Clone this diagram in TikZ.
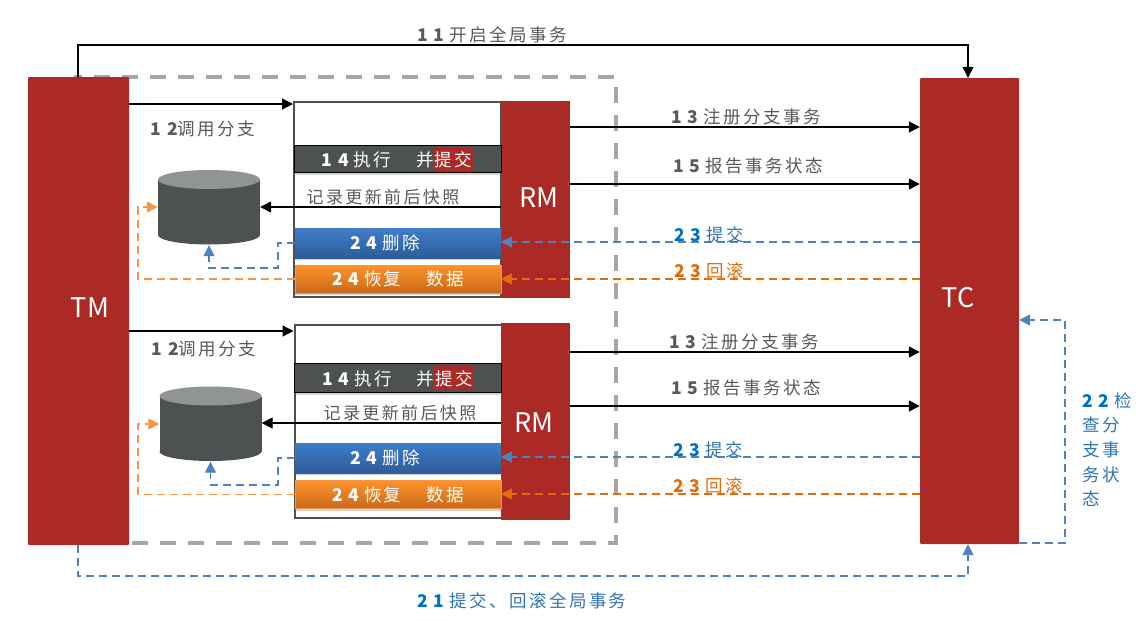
\documentclass[tikz,border=0pt]{standalone}
\usepackage{fontspec}
\usetikzlibrary{arrows.meta,shapes.geometric,shadows}
\newfontfamily\cjk[LetterSpace=14]{Noto Sans CJK SC}
\newfontfamily\plainfont{Noto Sans CJK SC}
\newfontfamily\dgfont[LetterSpace=32]{Noto Sans CJK SC}
\newcommand{\dg}[1]{{\bfseries\dgfont #1}}
\newcommand{\dgs}[1]{{\bfseries\dgfont #1}\hspace{5pt}}
\definecolor{brick}{HTML}{AB2A26}
\definecolor{slate}{HTML}{4D5151}
\definecolor{slatetop}{HTML}{909494}
\definecolor{txtgray}{HTML}{595959}
\definecolor{dashgray}{HTML}{A6A6A6}
\definecolor{blueln}{HTML}{4F81BD}
\definecolor{bluetxt}{HTML}{2E75B6}
\definecolor{bluedg}{HTML}{0070C0}
\definecolor{orgln}{HTML}{F79646}
\definecolor{orgdk}{HTML}{E36C0A}
\definecolor{deltop}{HTML}{3E7DCA}
\definecolor{delbot}{HTML}{2E5C99}
\definecolor{rbtop}{HTML}{FF9229}
\definecolor{rbbot}{HTML}{C86A1C}
\tikzset{
 x=1pt,y=-1pt,
 txt/.style={font=\cjk\fontsize{17.5}{20}\selectfont,inner sep=0pt,text=txtgray,yshift=-1pt},
 snaptxt/.style={txt,font=\cjk\fontsize{17}{20}\selectfont},
 bluet/.style={txt,text=bluetxt},
 orgt/.style={txt,text=orgdk},
 block/.style={rectangle,fill=brick,inner sep=0pt,text=white,font=\plainfont\fontsize{27}{30}\selectfont},
 rmbox/.style={block,minimum width=69pt,minimum height=197pt},
 whitebox/.style={rectangle,draw=slate,line width=2pt,fill=white,inner sep=0pt,minimum width=207pt},
 softshadow/.style={drop shadow={shadow xshift=0pt,shadow yshift=-2pt,opacity=.35}},
 bartxt/.style={font=\cjk\fontsize{17.5}{20}\selectfont,text=white,inner sep=0pt},
 execbar/.style={rectangle,draw=black,line width=1pt,fill=slate,bartxt,minimum width=207pt,minimum height=27pt,softshadow},
 delbar/.style={rectangle,top color=deltop,bottom color=delbot,bartxt,minimum width=206pt,minimum height=30pt,softshadow},
 rbbar/.style={rectangle,draw=orgln,line width=.6pt,top color=rbtop,bottom color=rbbot,bartxt,minimum width=206pt,minimum height=28pt,softshadow},
 dbbody/.style={rectangle,fill=slate,inner sep=0pt,minimum width=102pt,minimum height=55pt},
 dbcap/.style={ellipse,inner sep=0pt,minimum width=102pt,minimum height=19pt},
 dbframe/.style={rectangle,inner sep=0pt,minimum width=102pt,minimum height=75pt},
 arr/.style={-{Triangle[length=11pt,width=11pt]},line width=1.3pt,black},
 bdash/.style={-{Triangle[length=11pt,width=11pt]},line width=1.3pt,blueln,dash pattern=on 8pt off 5pt},
 odash/.style={-{Triangle[length=11pt,width=11pt]},line width=1.3pt,orgln,dash pattern=on 8pt off 5pt},
 odk/.style={-{Triangle[length=11pt,width=11pt]},line width=1.3pt,orgdk,dash pattern=on 8pt off 5pt}
}
\setlength{\fboxsep}{1pt}
\newcommand{\rd}[1]{\colorbox{brick}{\rule[-4pt]{0pt}{22pt}#1}}
\begin{document}
\begin{tikzpicture}
\useasboundingbox (0,0) rectangle (1144,621);
% dashed frame
\node[rectangle,draw=dashgray,line width=3.5pt,dash pattern=on 16pt off 12pt,minimum width=540pt,minimum height=466pt,inner sep=0pt] (frame) at (346,310) {};
% main blocks
\node[block,minimum width=101pt,minimum height=468pt,rounded corners=1pt] (tm) at (78.5,311) {};
\node[block,minimum width=99pt,minimum height=466pt,rounded corners=1pt] (tc) at (969.5,311) {};
\node[block,fill=none] (tmlab) at (90,308) {TM};
\node[block,fill=none] (tclab) at (958,298) {TC};
% first group
\node[whitebox,minimum height=195pt] (box1) at (397.5,199.5) {};
\node[rmbox] (rm1) at (535.5,199) {};
\node[block,fill=none] (rm1lab) at (539,198) {RM};
\node[execbar] (ex1) at (397.5,159) {\dgs{14}执行\hspace{25pt}并\rd{提交}};
\node[delbar] (del1) at (398,243) {\dgs{24}删除\hspace*{26pt}\mbox{}};
\node[rbbar] (rb1) at (398,279) {\dgs{24}恢复\hspace{25pt}数据};
\node[dbframe] (db1) at (209,207.5) {};
\node[dbcap,fill=slate] (db1b) at (209,235) {};
\node[dbbody] (db1m) at (209,207) {};
\node[dbcap,fill=slatetop] (db1t) at (209,179.5) {};
% second group
\node[whitebox,minimum height=193pt] (box2) at (398,421) {};
\node[rmbox] (rm2) at (535.5,421) {};
\node[block,fill=none] (rm2lab) at (534,423) {RM};
\node[execbar,minimum height=29pt] (ex2) at (398,378) {\dgs{14}执行\hspace{25pt}并\rd{提交}};
\node[delbar] (del2) at (398,458) {\dgs{24}删除\hspace*{26pt}\mbox{}};
\node[rbbar] (rb2) at (398,494.5) {\dgs{24}恢复\hspace{25pt}数据};
\node[dbframe] (db2) at (210.5,424) {};
\node[dbcap,fill=slate] (db2b) at (210.5,451.5) {};
\node[dbbody] (db2m) at (210.5,424) {};
\node[dbcap,fill=slatetop] (db2t) at (210.5,396) {};
% labels
\node[txt] (l11) at (492,34) {\dgs{11}开启全局事务};
\node[txt] (l12a) at (203,128) {\dg{12}调用分支};
\node[txt] (l12b) at (204,348) {\dg{12}调用分支};
\node[snaptxt] (snap1) at (383,196) {记录更新前后快照};
\node[snaptxt] (snap2) at (400,412) {记录更新前后快照};
\node[txt] (l13a) at (746,116) {\dgs{13}注册分支事务};
\node[txt] (l15a) at (748,165) {\dgs{15}报告事务状态};
\node[txt] (l13b) at (744,341) {\dgs{13}注册分支事务};
\node[txt] (l15b) at (746,387) {\dgs{15}报告事务状态};
\node[bluet] (l23a) at (709,234) {{\color{bluedg}\dgs{23}}提交};
\node[orgt] (l23b) at (709,270) {\dgs{23}回滚};
\node[bluet] (l23c) at (708,449) {{\color{bluedg}\dgs{23}}提交};
\node[orgt] (l23d) at (708,485) {\dgs{23}回滚};
\node[bluet] (l21) at (522,600) {{\color{bluedg}\dgs{21}}提交、回滚全局事务};
\node[bluet,anchor=north west,align=left,font=\cjk\fontsize{17.5}{24.7}\selectfont] (l22) at (1082,391) {{\color{bluedg}\dgs{22}}检\\查分\\支事\\务状\\态};
% connectors
\draw[arr] (tm.north -| 78,0) -- (78,45) -- (968,45) -- (tc.north -| 968,0);
\draw[arr] (tm.east |- 0,104) -- (box1.west |- 0,104);
\draw[arr] (tm.east |- 0,331) -- (box2.west |- 0,331);
\draw[arr] (rm1.west |- 0,207) -- (db1.east |- 0,207);
\draw[arr] (rm2.west |- 0,423) -- (db2.east |- 0,423);
\draw[arr] (rm1.east |- 0,127) -- (tc.west |- 0,127);
\draw[arr] (rm1.east |- 0,184) -- (tc.west |- 0,184);
\draw[arr] (rm2.east |- 0,352) -- (tc.west |- 0,352);
\draw[arr] (rm2.east |- 0,406) -- (tc.west |- 0,406);
\draw[bdash] (tc.west |- 0,242) -- (rm1.west |- 0,242);
\draw[odk] (tc.west |- 0,279) -- (rm1.west |- 0,279);
\draw[bdash] (tc.west |- 0,457) -- (rm2.west |- 0,457);
\draw[odk] (tc.west |- 0,494) -- (rm2.west |- 0,494);
\draw[bdash] (del1.west) -- (278,243) -- (278,268) -- (209,268) -- (db1.south);
\draw[bdash] (del2.west) -- (278,458) -- (278,485) -- (210.5,485) -- (db2.south);
\draw[odash] (rb1.west) -- (138,279) -- (138,207) -- (db1.west |- 0,207);
\draw[odash] (rb2.west) -- (138,494.5) -- (138,424) -- (db2.west |- 0,424);
\draw[bdash] (tm.south -| 78,0) -- (78,576) -- (968,576) -- (tc.south -| 968,0);
\draw[bdash] (tc.east |- 0,543) -- (1065,543) -- (1065,320) -- (tc.east |- 0,320);
\end{tikzpicture}
\end{document}
